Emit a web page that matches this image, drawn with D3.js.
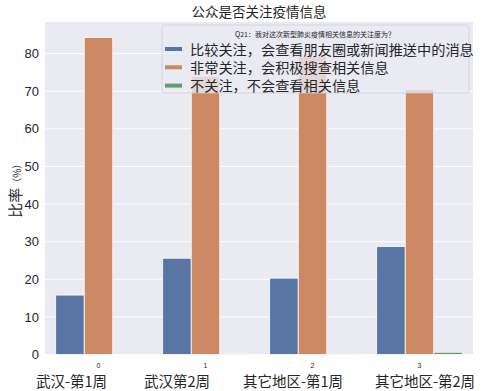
<!DOCTYPE html>
<html>
<head>
<meta charset="utf-8">
<script src="https://cdn.jsdelivr.net/npm/d3@7/dist/d3.min.js"></script>
<style>
  body { margin: 0; background: #fff; }
  text { font-family: "Liberation Sans", "Noto Sans CJK SC", sans-serif; }
  .cjk { font-family: "Noto Sans CJK SC", sans-serif; }
</style>
</head>
<body>
<div id="chart"></div>
<script>
// data
const groups = ["0", "1", "2", "3"];
const groupNames = ["武汉-第1周", "武汉第2周", "其它地区-第1周", "其它地区-第2周"];
const series = ["比较关注，会查看朋友圈或新闻推送中的消息", "非常关注，会积极搜查相关信息", "不关注，不会查看相关信息"];
const careSome = [15.8, 25.6, 20.3, 28.7];
const careMuch = [84.3, 74.0, 79.3, 70.5];
const careNone = [0.0, 0.15, 0.2, 0.6];
const yTicks = [0, 10, 20, 30, 40, 50, 60, 70, 80];
const colors = ["#5975a4", "#cc8963", "#5f9e6e"];

const values = [careSome, careMuch, careNone];

const width = 487, height = 391;
const margin = {top: 22, right: 14, bottom: 36.5, left: 45};
const w = width - margin.left - margin.right;
const h = height - margin.top - margin.bottom;

const svg = d3.select("#chart").append("svg")
  .attr("width", width)
  .attr("height", height);

const g = svg.append("g")
  .attr("transform", `translate(${margin.left},${margin.top})`);

g.append("rect").attr("width", w).attr("height", h).attr("fill", "#eaeaf2");

const x = d3.scaleBand().domain(groups).range([0, w]).paddingInner(0).paddingOuter(0);
const xSub = d3.scaleBand().domain(d3.range(series.length)).range([x.bandwidth() * 0.1, x.bandwidth() * 0.9]);
const y = d3.scaleLinear().domain([0, 88.4]).range([h, 0]);

// grid
g.selectAll(".grid").data(yTicks).join("line")
  .attr("x1", 0).attr("x2", w)
  .attr("y1", d => y(d)).attr("y2", d => y(d))
  .attr("stroke", "#fff").attr("stroke-width", 1);

// bars
series.forEach((s, si) => {
  g.append("g").selectAll("rect").data(groups).join("rect")
    .attr("x", d => x(d) + xSub(si))
    .attr("width", xSub.bandwidth())
    .attr("y", (d, i) => y(values[si][i]))
    .attr("height", (d, i) => y(0) - y(values[si][i]))
    .attr("fill", colors[si])
    .attr("stroke", values[si].some(v => v > 0) ? "#fff" : "none")
    .attr("stroke-width", 0.8);
});

// y axis
const yAxis = g.append("g").call(d3.axisLeft(y).tickValues(yTicks).tickSize(0).tickPadding(6));
yAxis.select(".domain").remove();
yAxis.selectAll("text").attr("font-size", 13).attr("fill", "#262626");

// x axis ticks (small)
const xAxis = g.append("g").attr("transform", `translate(0,${h})`)
  .call(d3.axisBottom(x).tickSize(0).tickPadding(9));
xAxis.select(".domain").remove();
xAxis.selectAll("text").attr("font-size", 7).attr("fill", "#262626");

// group names line (xlabel)
const nameX = [36, 144, 243, 375];
svg.append("g").selectAll("text").data(groupNames).join("text")
  .attr("class", "cjk")
  .attr("x", (d, i) => nameX[i])
  .attr("y", 387)
  .attr("font-size", 14.5)
  .attr("fill", "#262626")
  .text(d => d);

// y label
const yl = svg.append("text")
  .attr("class", "cjk")
  .attr("transform", `translate(21,${margin.top + h / 2}) rotate(-90)`)
  .attr("text-anchor", "middle")
  .attr("fill", "#262626");
yl.append("tspan").attr("font-size", 15).text("比率");
yl.append("tspan").attr("font-size", 10).text("（%）");

// title
svg.append("text")
  .attr("class", "cjk")
  .attr("x", margin.left + w / 2)
  .attr("y", 17)
  .attr("text-anchor", "middle")
  .attr("font-size", 13.5)
  .attr("fill", "#262626")
  .text("公众是否关注疫情信息");

// legend
const lg = svg.append("g").attr("transform", "translate(162,25)");
lg.append("rect")
  .attr("width", 307).attr("height", 68).attr("rx", 3)
  .attr("fill", "#eaeaf2").attr("fill-opacity", 0.8)
  .attr("stroke", "#cfcfd6").attr("stroke-width", 0.8);
lg.append("text")
  .attr("class", "cjk")
  .attr("x", 153).attr("y", 11.5)
  .attr("text-anchor", "middle")
  .attr("font-size", 7)
  .attr("fill", "#262626")
  .text("Q21：我对这次新型肺炎疫情相关信息的关注度为？");
series.forEach((s, i) => {
  const row = lg.append("g").attr("transform", `translate(0,${24 + i * 18.3})`);
  row.append("rect").attr("x", 3).attr("y", -2).attr("width", 17).attr("height", 4).attr("fill", colors[i]);
  row.append("text")
    .attr("class", "cjk")
    .attr("x", 28).attr("y", 5.5)
    .attr("font-size", 14.2)
    .attr("fill", "#262626")
    .text(s);
});
</script>
</body>
</html>
